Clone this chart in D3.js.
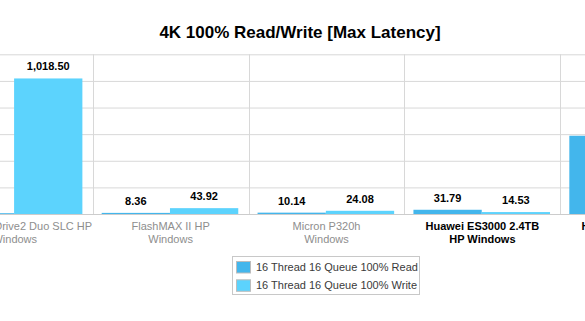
<!DOCTYPE html>
<html>
<head>
<meta charset="utf-8">
<script src="https://cdn.jsdelivr.net/npm/d3@7"></script>
<style>
  html, body { margin: 0; padding: 0; background: #fff; overflow: hidden; }
  svg { display: block; font-family: "Liberation Sans", Arial, Helvetica, sans-serif; }
</style>
</head>
<body>
<svg id="chart" width="585" height="321"></svg>
<script>
// Chart content
const chartTitle = "4K 100% Read/Write [Max Latency]";
const categories = [
  "Fusion-io ioDrive2 Duo SLC HP\nWindows",
  "FlashMAX II HP\nWindows",
  "Micron P320h\nWindows",
  "Huawei ES3000 2.4TB\nHP Windows",
  "Huawei ES3000 1.2TB\nHP Windows"
];
const highlighted = [false, false, false, true, true];
const seriesNames = ["16 Thread 16 Queue 100% Read", "16 Thread 16 Queue 100% Write"];
const readLatency = [6, 8.36, 10.14, 31.79, 588];
const writeLatency = [1018.50, 43.92, 24.08, 14.53, null];
const yTicks = [0, 200, 400, 600, 800, 1000, 1200];
const seriesColors = ["#43b6ec", "#5cd3fd"];

const W = 585;
const svg = d3.select("#chart");

// Plot area (the chart is wider than the visible window)
const plot = { left: -63.2, right: 716.2, top: 54.3, bottom: 214 };

const x = d3.scaleBand()
  .domain(d3.range(categories.length))
  .range([plot.left, plot.right])
  .paddingInner(0).paddingOuter(0);

const x1 = d3.scaleBand()
  .domain([0, 1])
  .range([9, x.bandwidth() - 10.3])
  .padding(0);

const y = d3.scaleLinear()
  .domain([0, 1200])
  .range([plot.bottom, plot.top]);

// Horizontal grid lines from the y axis ticks (axis labels sit outside the window)
const yAxis = d3.axisLeft(y)
  .tickValues(yTicks)
  .tickSize(-(plot.right - plot.left))
  .tickFormat("");
const gy = svg.append("g")
  .attr("transform", `translate(${plot.left},0)`)
  .call(yAxis);
gy.select(".domain").remove();
gy.selectAll(".tick line").attr("stroke", "#d8d8d8").attr("stroke-width", 1);
gy.selectAll(".tick text").remove();

// Vertical category separators
const bounds = d3.range(categories.length + 1).map(i => i < categories.length ? x(i) : x(i - 1) + x.bandwidth());
svg.append("g").selectAll("line")
  .data(bounds)
  .join("line")
  .attr("x1", d => Math.round(d) + 0.5)
  .attr("x2", d => Math.round(d) + 0.5)
  .attr("y1", plot.top)
  .attr("y2", plot.bottom)
  .attr("stroke", "#d8d8d8");

// Bars
const rows = categories.map((c, i) => ({ i, values: [readLatency[i], writeLatency[i]] }));
const groups = svg.append("g").selectAll("g")
  .data(rows)
  .join("g")
  .attr("transform", d => `translate(${x(d.i)},0)`);

const points = groups.selectAll("g.pt")
  .data(d => d.values.map((v, s) => ({ s, v, i: d.i })).filter(p => p.v != null))
  .join("g").attr("class", "pt");

points.append("rect")
  .attr("x", p => x1(p.s))
  .attr("width", x1.bandwidth())
  .attr("y", p => y(p.v))
  .attr("height", p => y(0) - y(p.v))
  .attr("fill", p => seriesColors[p.s]);

// Value labels, only for bars whose label lies inside the window
const barCenter = p => x(p.i) + x1(p.s) + x1.bandwidth() / 2;
points.filter(p => barCenter(p) - 25 > 0 && barCenter(p) + 25 < W)
  .append("text")
  .attr("x", p => x1(p.s) + x1.bandwidth() / 2)
  .attr("y", p => y(p.v) - 8)
  .attr("text-anchor", "middle")
  .attr("font-size", 11)
  .attr("font-weight", "bold")
  .attr("fill", "#000")
  .text(p => d3.format(",.2f")(p.v));

// Axis baseline
svg.append("line")
  .attr("x1", plot.left).attr("x2", plot.right)
  .attr("y1", plot.bottom + 0.5).attr("y2", plot.bottom + 0.5)
  .attr("stroke", "#cccccc");

// Category labels
const labels = svg.append("g").selectAll("text")
  .data(categories)
  .join("text")
  .attr("x", (d, i) => x(i) + x.bandwidth() / 2)
  .attr("y", 229.7)
  .attr("text-anchor", "middle")
  .attr("font-size", 11)
  .attr("font-weight", (d, i) => highlighted[i] ? "bold" : "normal")
  .attr("fill", (d, i) => highlighted[i] ? "#000" : "#8e8e8e");
labels.selectAll("tspan")
  .data((d, i) => d.split("\n").map(t => ({ t, cx: x(i) + x.bandwidth() / 2 })))
  .join("tspan")
  .attr("x", d => d.cx)
  .attr("dy", (d, k) => k === 0 ? 0 : 13)
  .text(d => d.t);

// Title
svg.append("text")
  .attr("x", 300)
  .attr("y", 38.3)
  .attr("text-anchor", "middle")
  .attr("font-size", 17)
  .attr("font-weight", "bold")
  .attr("fill", "#000")
  .text(chartTitle);

// Legend
const legend = svg.append("g");
legend.append("rect")
  .attr("x", 232.5).attr("y", 256.5)
  .attr("width", 187).attr("height", 38)
  .attr("fill", "none")
  .attr("stroke", "#c8c8c8");
const items = legend.selectAll("g.item")
  .data(seriesNames)
  .join("g").attr("class", "item")
  .attr("transform", (d, i) => `translate(0,${i * 18.3})`);
items.append("rect")
  .attr("x", 236.5).attr("y", 261.5)
  .attr("width", 14).attr("height", 11.5)
  .attr("fill", (d, i) => seriesColors[i])
  .attr("stroke", "#bdbdbd");
items.append("text")
  .attr("x", 256)
  .attr("y", 270.8)
  .attr("font-size", 11)
  .attr("fill", "#3a3a3a")
  .text(d => d);
</script>
</body>
</html>
